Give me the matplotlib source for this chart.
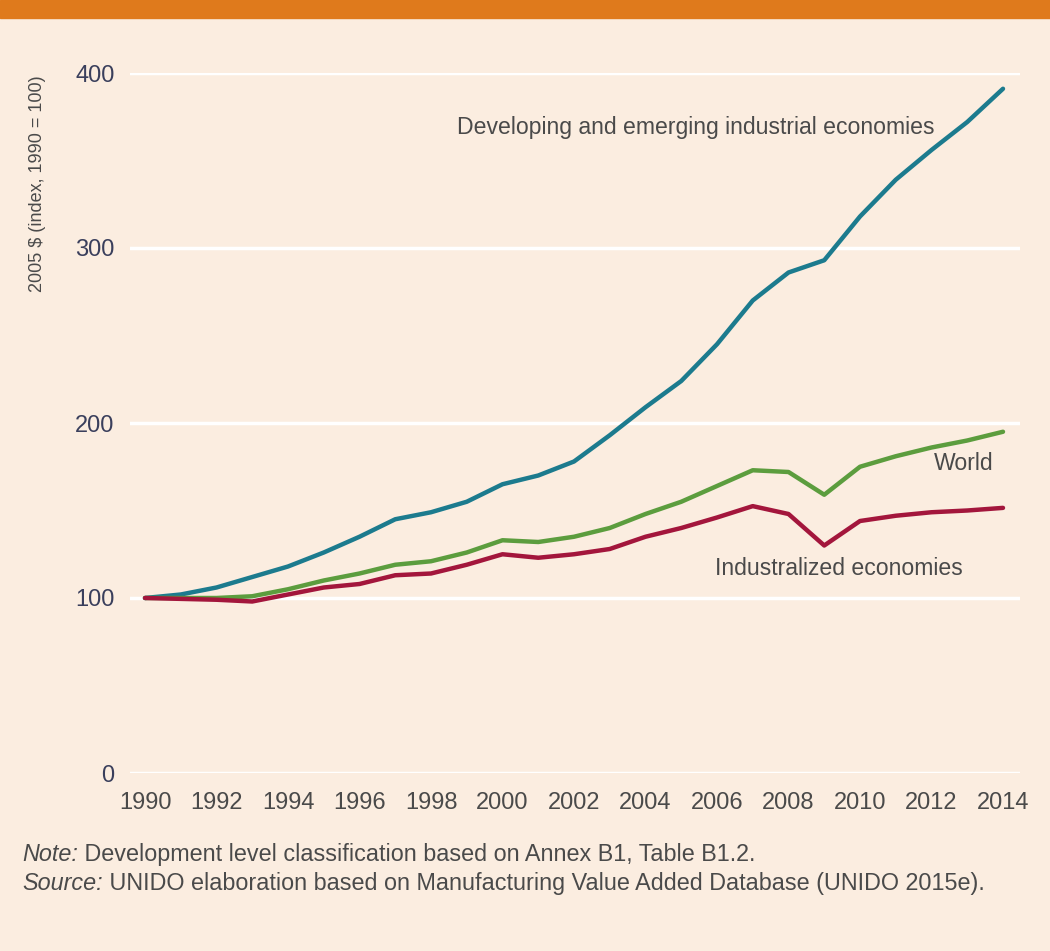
import matplotlib
matplotlib.use("Agg")
import matplotlib.pyplot as plt
import numpy as np

years = np.arange(1990, 2015)

developing = [100, 102, 106, 112, 118, 126, 135, 145, 149, 155, 165, 170, 178,
              193, 209, 224, 245, 270, 286, 293, 318, 339, 356, 372, 391]
world = [100, 100, 100, 101, 105, 110, 114, 119, 121, 126, 133, 132, 135,
         140, 148, 155, 164, 173, 172, 159, 175, 181, 186, 190, 195]
industrialized = [100, 99.5, 99, 98, 102, 106, 108, 113, 114, 119, 125, 123, 125,
                  128, 135, 140, 146, 152.5, 148, 130, 144, 147, 149, 150, 151.5]

series_labels = ["Developing and emerging industrial economies", "World",
                 "Industralized economies"]
ylabel = "2005 $ (index, 1990 = 100)"
note_head, note_body = "Note:", " Development level classification based on Annex B1, Table B1.2."
src_head, src_body = "Source:", " UNIDO elaboration based on Manufacturing Value Added Database (UNIDO 2015e)."

bg = "#fbede0"
txt = "#4a4a4a"
plt.rcParams["font.family"] = ["Liberation Sans", "DejaVu Sans"]

fig = plt.figure(figsize=(10.5, 9.51), dpi=100, facecolor=bg)
ax = fig.add_axes([130 / 1050, 1 - 773 / 951, 890 / 1050, 700 / 951])
ax.set_facecolor(bg)

# orange band on top
fig.patches.append(plt.Rectangle((0, 1 - 18 / 951), 1, 18 / 951, transform=fig.transFigure,
                                 color="#df7a1c", zorder=0))

ax.plot(years, developing, color="#1c7b8e", lw=3.2, solid_capstyle="round", zorder=3)
ax.plot(years, world, color="#5c9d3e", lw=3.2, solid_capstyle="round", zorder=3)
ax.plot(years, industrialized, color="#a3163c", lw=3.2, solid_capstyle="round", zorder=3)

ax.set_xlim(1990 - 15 / 35.75, 2014 + 17 / 35.75)
ax.set_ylim(0, 400)
ax.set_yticks([0, 100, 200, 300, 400])
ax.set_xticks(np.arange(1990, 2015, 2))
ax.grid(axis="y", color="white", lw=2.5)
ax.set_axisbelow(True)
for s in ax.spines.values():
    s.set_visible(False)
ax.tick_params(length=0, labelsize=17, colors=txt)
ax.tick_params(axis="y", pad=11)
ax.tick_params(axis="x", pad=14)
for lab in ax.get_yticklabels():
    lab.set_color("#3a3f5c")

fig.text(38 / 1050, 1 - 75 / 951, ylabel, rotation=90, ha="center", va="top",
         fontsize=13, color=txt)

ax.text(2005.4, 369, series_labels[0], ha="center", va="center", fontsize=16.6, color=txt)
ax.text(2012.9, 177, series_labels[1], ha="center", va="center", fontsize=16.6, color=txt)
ax.text(2009.4, 117, series_labels[2], ha="center", va="center", fontsize=16.6, color=txt)

# footnotes: italic head followed by regular body, same baseline
fig.canvas.draw()
r = fig.canvas.get_renderer()
for y, head, body in [(861, note_head, note_body), (890, src_head, src_body)]:
    t = fig.text(22 / 1050, 1 - y / 951, head, style="italic", fontsize=16.8, color=txt,
                 va="baseline")
    w = t.get_window_extent(r).width
    fig.text((22 + w) / 1050, 1 - y / 951, body, fontsize=16.8, color=txt, va="baseline")

fig.savefig("out.png", dpi=100, facecolor=bg)
